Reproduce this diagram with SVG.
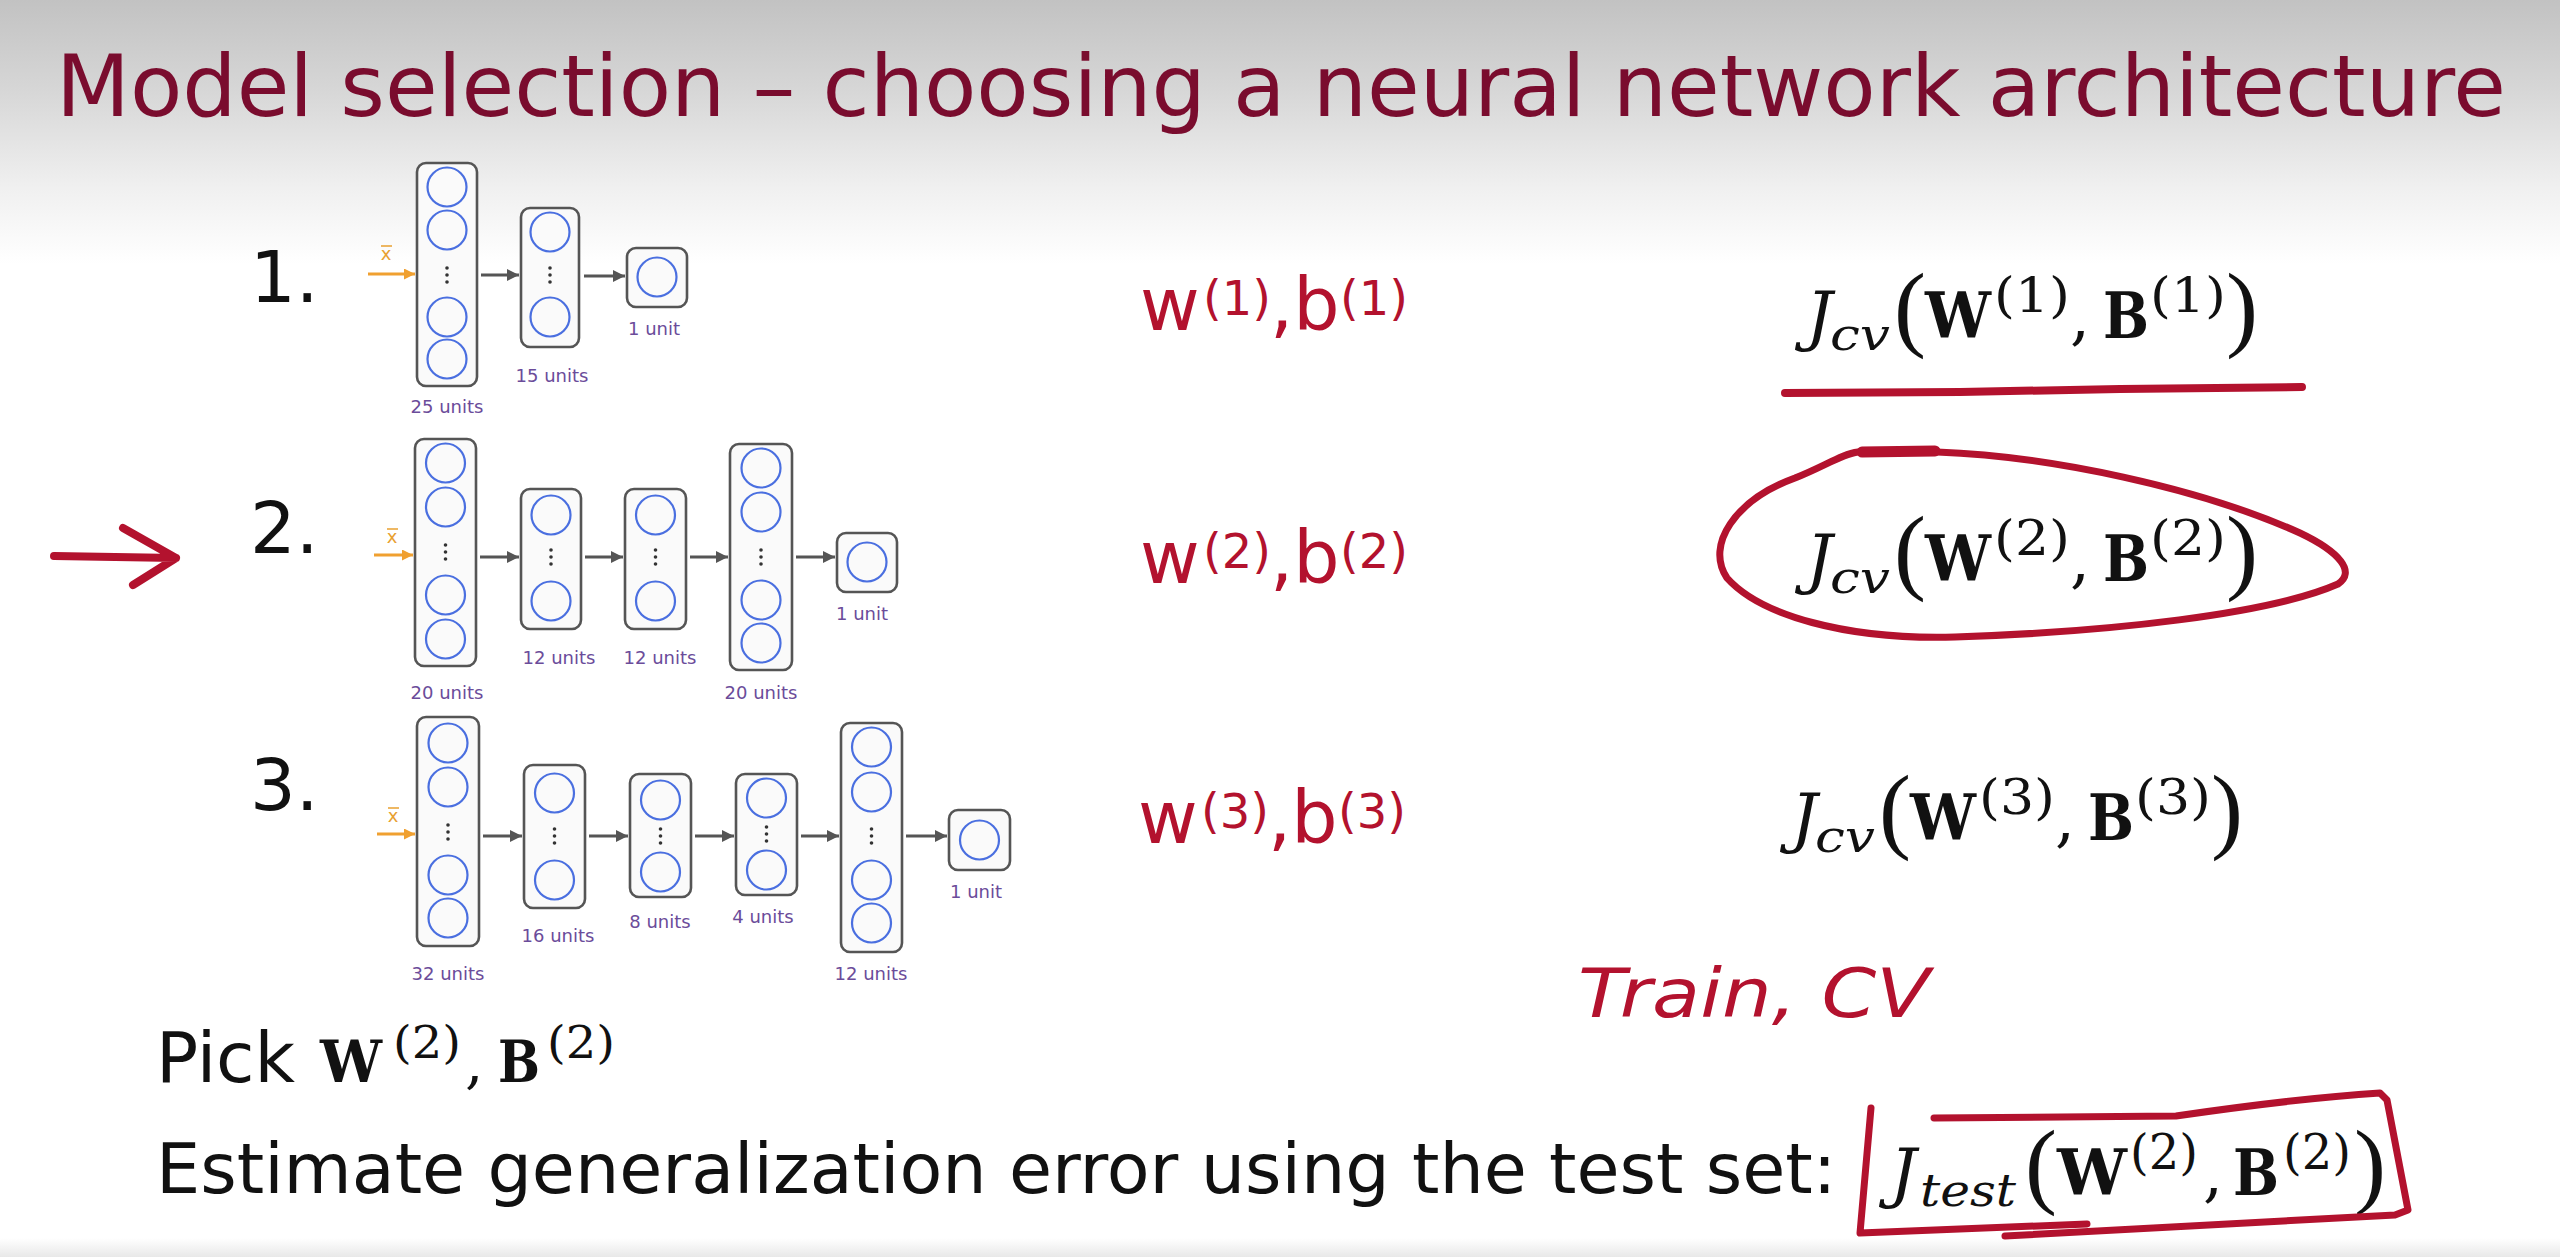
<svg xmlns="http://www.w3.org/2000/svg" width="2560" height="1257" viewBox="0 0 2560 1257">
<defs>
<linearGradient id="bg" x1="0" y1="0" x2="0" y2="1257" gradientUnits="userSpaceOnUse">
<stop offset="0" stop-color="#c2c2c2"/>
<stop offset="0.07" stop-color="#d6d6d6"/>
<stop offset="0.15" stop-color="#f0f0f0"/>
<stop offset="0.21" stop-color="#ffffff"/>
<stop offset="0.985" stop-color="#ffffff"/>
<stop offset="1" stop-color="#e8e8e8"/>
</linearGradient>
<marker id="ah" viewBox="0 0 10 10" refX="10" refY="5" markerWidth="12" markerHeight="12" markerUnits="userSpaceOnUse" orient="auto">
<path d="M0,0 L10,5 L0,10 z" fill="#555"/>
</marker>
<marker id="ao" viewBox="0 0 10 10" refX="10" refY="5" markerWidth="11" markerHeight="11" markerUnits="userSpaceOnUse" orient="auto">
<path d="M0,0 L10,5 L0,10 z" fill="#f0a030"/>
</marker>
</defs>
<style>
.box{fill:#fafafa;stroke:#555;stroke-width:2.6}
.cir{fill:none;stroke:#4a6fe0;stroke-width:2.2}
.dot{fill:#333}
.lbl{font-family:"DejaVu Sans",Verdana,sans-serif;font-size:18px;fill:#6b4c9a;text-anchor:middle}
.xl{font-family:"DejaVu Sans",sans-serif;font-size:18px;fill:#e8a030;text-anchor:middle}
.conn{stroke:#555;stroke-width:3;fill:none;marker-end:url(#ah)}
.inp{stroke:#f0a030;stroke-width:3;fill:none;marker-end:url(#ao)}
.body{font-family:"DejaVu Sans",Verdana,sans-serif;font-size:70px;fill:#111}
.num{font-family:"DejaVu Sans",Verdana,sans-serif;font-size:72px;fill:#111}
.hw{font-family:"DejaVu Sans",sans-serif;fill:#b3122e}
.ink{fill:none;stroke:#b3122e;stroke-linecap:round;stroke-linejoin:round}
.m{font-family:"DejaVu Serif","Liberation Serif",serif;fill:#111}
.p{font-family:"Liberation Serif","DejaVu Serif",serif;fill:#111;font-size:96px}
.mi{font-family:"DejaVu Serif","Liberation Serif",serif;font-style:italic;fill:#111}
.mb{font-family:"DejaVu Serif","Liberation Serif",serif;font-weight:bold;fill:#111}
</style>
<rect x="0" y="0" width="2560" height="1257" fill="url(#bg)"/>

<g id="title">
<text x="56" y="116" font-family="'DejaVu Sans',Verdana,sans-serif" font-size="85" fill="#7a0c2e" textLength="2450" lengthAdjust="spacingAndGlyphs">Model selection – choosing a neural network architecture</text>
</g>

<g id="row-labels">
<text class="num" x="250" y="302">1.</text>
<text class="num" x="250" y="553">2.</text>
<text class="num" x="250" y="810">3.</text>
</g>

<g id="red-arrow">
<path class="ink" stroke-width="8" d="M54,556 L176,558 M123,528 L176,558 L133,585"/>
</g>

<!-- Network 1 -->
<g id="net1-input">
<text class="xl" x="386" y="260">x</text>
<path d="M381,246 L392,246" stroke="#e8a030" stroke-width="1.5"/>
</g>
<g id="net1-layer1">
<rect class="box" x="417" y="163" width="60" height="223" rx="9"/>
<circle class="cir" cx="447" cy="187" r="19.5"/><circle class="cir" cx="447" cy="230" r="19.5"/>
<circle class="cir" cx="447" cy="317" r="19.5"/><circle class="cir" cx="447" cy="359" r="19.5"/>
<circle class="dot" cx="447" cy="268" r="1.8"/><circle class="dot" cx="447" cy="275" r="1.8"/><circle class="dot" cx="447" cy="282" r="1.8"/>
<text class="lbl" x="447" y="413">25 units</text>
</g>
<g id="net1-layer2">
<rect class="box" x="521" y="208" width="58" height="139" rx="9"/>
<circle class="cir" cx="550" cy="232" r="19.5"/><circle class="cir" cx="550" cy="317" r="19.5"/>
<circle class="dot" cx="550" cy="268" r="1.8"/><circle class="dot" cx="550" cy="275" r="1.8"/><circle class="dot" cx="550" cy="282" r="1.8"/>
<text class="lbl" x="552" y="382">15 units</text>
</g>
<g id="net1-output">
<rect class="box" x="627" y="248" width="60" height="59" rx="9"/>
<circle class="cir" cx="657" cy="277" r="19.5"/>
<text class="lbl" x="654" y="335">1 unit</text>
</g>

<!-- Network 2 -->
<g id="net2-input">
<text class="xl" x="392" y="543">x</text>
<path d="M387,529 L398,529" stroke="#e8a030" stroke-width="1.5"/>
</g>
<g id="net2-layer1">
<rect class="box" x="415" y="439" width="61" height="227" rx="9"/>
<circle class="cir" cx="445.5" cy="463" r="19.5"/><circle class="cir" cx="445.5" cy="507" r="19.5"/>
<circle class="cir" cx="445.5" cy="595" r="19.5"/><circle class="cir" cx="445.5" cy="639" r="19.5"/>
<circle class="dot" cx="445.5" cy="545" r="1.8"/><circle class="dot" cx="445.5" cy="552" r="1.8"/><circle class="dot" cx="445.5" cy="559" r="1.8"/>
<text class="lbl" x="447" y="699">20 units</text>
</g>
<g id="net2-layer2">
<rect class="box" x="521" y="489" width="60" height="140" rx="9"/>
<circle class="cir" cx="551" cy="515" r="19.5"/><circle class="cir" cx="551" cy="601" r="19.5"/>
<circle class="dot" cx="551" cy="550" r="1.8"/><circle class="dot" cx="551" cy="557" r="1.8"/><circle class="dot" cx="551" cy="564" r="1.8"/>
<text class="lbl" x="559" y="664">12 units</text>
</g>
<g id="net2-layer3">
<rect class="box" x="625" y="489" width="61" height="140" rx="9"/>
<circle class="cir" cx="655.5" cy="515" r="19.5"/><circle class="cir" cx="655.5" cy="601" r="19.5"/>
<circle class="dot" cx="655.5" cy="550" r="1.8"/><circle class="dot" cx="655.5" cy="557" r="1.8"/><circle class="dot" cx="655.5" cy="564" r="1.8"/>
<text class="lbl" x="660" y="664">12 units</text>
</g>
<g id="net2-layer4">
<rect class="box" x="730" y="444" width="62" height="226" rx="9"/>
<circle class="cir" cx="761" cy="468" r="19.5"/><circle class="cir" cx="761" cy="512" r="19.5"/>
<circle class="cir" cx="761" cy="600" r="19.5"/><circle class="cir" cx="761" cy="643" r="19.5"/>
<circle class="dot" cx="761" cy="550" r="1.8"/><circle class="dot" cx="761" cy="557" r="1.8"/><circle class="dot" cx="761" cy="564" r="1.8"/>
<text class="lbl" x="761" y="699">20 units</text>
</g>
<g id="net2-output">
<rect class="box" x="837" y="533" width="60" height="59" rx="9"/>
<circle class="cir" cx="867" cy="562" r="19.5"/>
<text class="lbl" x="862" y="620">1 unit</text>
</g>

<!-- Network 3 -->
<g id="net3-input">
<text class="xl" x="393" y="822">x</text>
<path d="M388,808 L399,808" stroke="#e8a030" stroke-width="1.5"/>
</g>
<g id="net3-layer1">
<rect class="box" x="417" y="717" width="62" height="229" rx="9"/>
<circle class="cir" cx="448" cy="743" r="19.5"/><circle class="cir" cx="448" cy="787" r="19.5"/>
<circle class="cir" cx="448" cy="875" r="19.5"/><circle class="cir" cx="448" cy="918" r="19.5"/>
<circle class="dot" cx="448" cy="825" r="1.8"/><circle class="dot" cx="448" cy="832" r="1.8"/><circle class="dot" cx="448" cy="839" r="1.8"/>
<text class="lbl" x="448" y="980">32 units</text>
</g>
<g id="net3-layer2">
<rect class="box" x="524" y="765" width="61" height="143" rx="9"/>
<circle class="cir" cx="554.5" cy="793" r="19.5"/><circle class="cir" cx="554.5" cy="880" r="19.5"/>
<circle class="dot" cx="554.5" cy="829" r="1.8"/><circle class="dot" cx="554.5" cy="836" r="1.8"/><circle class="dot" cx="554.5" cy="843" r="1.8"/>
<text class="lbl" x="558" y="942">16 units</text>
</g>
<g id="net3-layer3">
<rect class="box" x="630" y="774" width="61" height="123" rx="9"/>
<circle class="cir" cx="660.5" cy="800" r="19.5"/><circle class="cir" cx="660.5" cy="872" r="19.5"/>
<circle class="dot" cx="660.5" cy="829" r="1.8"/><circle class="dot" cx="660.5" cy="836" r="1.8"/><circle class="dot" cx="660.5" cy="843" r="1.8"/>
<text class="lbl" x="660" y="928">8 units</text>
</g>
<g id="net3-layer4">
<rect class="box" x="736" y="774" width="61" height="121" rx="9"/>
<circle class="cir" cx="766.5" cy="798" r="19.5"/><circle class="cir" cx="766.5" cy="870" r="19.5"/>
<circle class="dot" cx="766.5" cy="827" r="1.8"/><circle class="dot" cx="766.5" cy="834" r="1.8"/><circle class="dot" cx="766.5" cy="841" r="1.8"/>
<text class="lbl" x="763" y="923">4 units</text>
</g>
<g id="net3-layer5">
<rect class="box" x="841" y="723" width="61" height="229" rx="9"/>
<circle class="cir" cx="871.5" cy="747" r="19.5"/><circle class="cir" cx="871.5" cy="792" r="19.5"/>
<circle class="cir" cx="871.5" cy="880" r="19.5"/><circle class="cir" cx="871.5" cy="923" r="19.5"/>
<circle class="dot" cx="871.5" cy="829" r="1.8"/><circle class="dot" cx="871.5" cy="836" r="1.8"/><circle class="dot" cx="871.5" cy="843" r="1.8"/>
<text class="lbl" x="871" y="980">12 units</text>
</g>
<g id="net3-output">
<rect class="box" x="949" y="810" width="61" height="60" rx="9"/>
<circle class="cir" cx="979.5" cy="840" r="19.5"/>
<text class="lbl" x="976" y="898">1 unit</text>
</g>

<g id="connectors">
<path class="inp" d="M368,274 L415,274"/>
<path class="conn" d="M481,275 L519,275"/>
<path class="conn" d="M584,276 L625,276"/>
<path class="inp" d="M374,555 L413,555"/>
<path class="conn" d="M480,557 L519,557"/>
<path class="conn" d="M585,557 L623,557"/>
<path class="conn" d="M690,557 L728,557"/>
<path class="conn" d="M796,557 L835,557"/>
<path class="inp" d="M377,834 L415,834"/>
<path class="conn" d="M483,836 L522,836"/>
<path class="conn" d="M589,836 L628,836"/>
<path class="conn" d="M695,836 L734,836"/>
<path class="conn" d="M801,836 L839,836"/>
<path class="conn" d="M906,836 L947,836"/>
</g>

<!-- handwritten parameters -->
<g id="params1">
<text class="hw" font-size="73" y="330"><tspan x="1140">w</tspan><tspan x="1203" y="315" font-size="48">(1)</tspan><tspan x="1270" y="330">,b</tspan><tspan x="1340" y="315" font-size="48">(1)</tspan></text>
</g>
<g id="params2">
<text class="hw" font-size="73" y="583"><tspan x="1140">w</tspan><tspan x="1203" y="568" font-size="48">(2)</tspan><tspan x="1270" y="583">,b</tspan><tspan x="1340" y="568" font-size="48">(2)</tspan></text>
</g>
<g id="params3">
<text class="hw" font-size="73" y="843"><tspan x="1138">w</tspan><tspan x="1201" y="828" font-size="48">(3)</tspan><tspan x="1268" y="843">,b</tspan><tspan x="1338" y="828" font-size="48">(3)</tspan></text>
</g>

<!-- J_cv rows -->
<g id="jcv1">
<text class="mi" x="1806" y="338" font-size="66">J</text>
<text class="mi" x="1830" y="350" font-size="44" textLength="60" lengthAdjust="spacingAndGlyphs">cv</text>
<text class="p" x="1894" y="339">(</text>
<text class="mb" x="1925" y="338" font-size="63" textLength="66" lengthAdjust="spacingAndGlyphs">W</text>
<text class="m" x="1994" y="312" font-size="48" textLength="76" lengthAdjust="spacingAndGlyphs">(1)</text>
<text class="m" x="2070" y="338" font-size="63">,</text>
<text class="mb" x="2103" y="338" font-size="63" textLength="46" lengthAdjust="spacingAndGlyphs">B</text>
<text class="m" x="2150" y="312" font-size="48" textLength="76" lengthAdjust="spacingAndGlyphs">(1)</text>
<text class="p" x="2226" y="339">)</text>
</g>
<g id="underline1">
<path class="ink" stroke-width="8" d="M1785,393 L1960,392 L2120,389 L2302,387"/>
</g>

<g id="jcv2">
<text class="mi" x="1806" y="581" font-size="66">J</text>
<text class="mi" x="1830" y="593" font-size="44" textLength="60" lengthAdjust="spacingAndGlyphs">cv</text>
<text class="p" x="1894" y="582">(</text>
<text class="mb" x="1925" y="581" font-size="63" textLength="66" lengthAdjust="spacingAndGlyphs">W</text>
<text class="m" x="1994" y="555" font-size="48" textLength="76" lengthAdjust="spacingAndGlyphs">(2)</text>
<text class="m" x="2070" y="581" font-size="63">,</text>
<text class="mb" x="2103" y="581" font-size="63" textLength="46" lengthAdjust="spacingAndGlyphs">B</text>
<text class="m" x="2150" y="555" font-size="48" textLength="76" lengthAdjust="spacingAndGlyphs">(2)</text>
<text class="p" x="2226" y="582">)</text>
</g>
<g id="loop2">
<path class="ink" stroke-width="7" d="M1858,452 L1937,452 C2050,456 2200,488 2300,533 C2340,552 2356,572 2338,584 C2270,614 2110,632 1955,637 C1845,640 1760,615 1727,578 C1705,545 1735,500 1795,478 C1825,466 1842,454 1858,452"/>
<path class="ink" stroke-width="11" d="M1862,452 L1935,451"/>
</g>

<g id="jcv3">
<text class="mi" x="1791" y="840" font-size="66">J</text>
<text class="mi" x="1815" y="852" font-size="44" textLength="60" lengthAdjust="spacingAndGlyphs">cv</text>
<text class="p" x="1879" y="841">(</text>
<text class="mb" x="1910" y="840" font-size="63" textLength="66" lengthAdjust="spacingAndGlyphs">W</text>
<text class="m" x="1979" y="814" font-size="48" textLength="76" lengthAdjust="spacingAndGlyphs">(3)</text>
<text class="m" x="2055" y="840" font-size="63">,</text>
<text class="mb" x="2088" y="840" font-size="63" textLength="46" lengthAdjust="spacingAndGlyphs">B</text>
<text class="m" x="2135" y="814" font-size="48" textLength="76" lengthAdjust="spacingAndGlyphs">(3)</text>
<text class="p" x="2211" y="841">)</text>
</g>

<g id="train-cv">
<text class="hw" x="1578" y="1017" font-size="68" font-style="italic" textLength="352" lengthAdjust="spacingAndGlyphs">Train, CV</text>
</g>

<g id="pick">
<text class="body" x="156" y="1082">Pick</text>
<text class="mb" x="320" y="1082" font-size="58" textLength="62" lengthAdjust="spacingAndGlyphs">W</text>
<text class="m" x="393" y="1058" font-size="44" textLength="68" lengthAdjust="spacingAndGlyphs">(2)</text>
<text class="m" x="465" y="1082" font-size="58">,</text>
<text class="mb" x="498" y="1082" font-size="58" textLength="42" lengthAdjust="spacingAndGlyphs">B</text>
<text class="m" x="547" y="1058" font-size="44" textLength="68" lengthAdjust="spacingAndGlyphs">(2)</text>
</g>

<g id="estimate">
<text class="body" x="156" y="1193">Estimate generalization error using the test set:</text>
</g>

<g id="jtest">
<text class="mi" x="1890" y="1195" font-size="66">J</text>
<text class="mi" x="1920" y="1206" font-size="44" textLength="96" lengthAdjust="spacingAndGlyphs">test</text>
<text class="p" x="2025" y="1196">(</text>
<text class="mb" x="2057" y="1195" font-size="63" textLength="70" lengthAdjust="spacingAndGlyphs">W</text>
<text class="m" x="2130" y="1169" font-size="48" textLength="68" lengthAdjust="spacingAndGlyphs">(2)</text>
<text class="m" x="2203" y="1195" font-size="63">,</text>
<text class="mb" x="2233" y="1195" font-size="63" textLength="46" lengthAdjust="spacingAndGlyphs">B</text>
<text class="m" x="2283" y="1169" font-size="48" textLength="68" lengthAdjust="spacingAndGlyphs">(2)</text>
<text class="p" x="2354" y="1196">)</text>
</g>
<g id="box-test">
<path class="ink" stroke-width="7" d="M1934,1118 L2176,1116 Q2300,1098 2380,1093 L2387,1100 L2408,1210 L2395,1215 L2005,1236 M2087,1224 L1860,1233 L1871,1108"/>
</g>
</svg>
